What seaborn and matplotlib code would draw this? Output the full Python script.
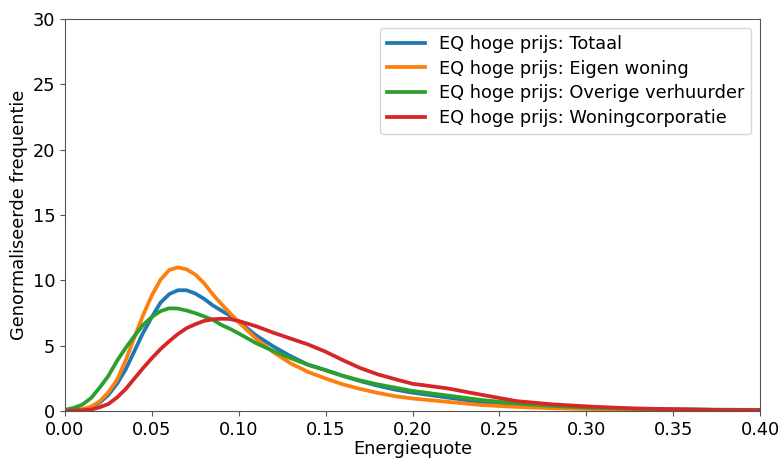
import numpy as np
import pandas as pd
import matplotlib
matplotlib.use("Agg")
import matplotlib.pyplot as plt
import seaborn as sns

x_vals = [0.0, 0.005, 0.01, 0.015, 0.02, 0.025, 0.03, 0.035, 0.04, 0.045,
          0.05, 0.055, 0.06, 0.065, 0.07, 0.075, 0.08, 0.085, 0.09, 0.095,
          0.10, 0.11, 0.12, 0.13, 0.14, 0.15, 0.16, 0.17, 0.18, 0.19,
          0.20, 0.22, 0.24, 0.26, 0.28, 0.30, 0.325, 0.35, 0.375, 0.40]

totaal = [0.05, 0.07, 0.13, 0.3, 0.65, 1.25, 2.1, 3.2, 4.6, 6.0,
          7.2, 8.3, 8.95, 9.25, 9.25, 9.0, 8.6, 8.1, 7.7, 7.3,
          6.85, 5.8, 4.95, 4.2, 3.55, 3.14, 2.7, 2.3, 1.95, 1.65,
          1.42, 1.05, 0.68, 0.46, 0.33, 0.25, 0.18, 0.13, 0.1, 0.08]

eigen = [0.05, 0.08, 0.15, 0.35, 0.75, 1.45, 2.4, 3.9, 5.65, 7.35,
         8.85, 10.05, 10.8, 11.0, 10.85, 10.45, 9.8, 8.95, 8.2, 7.5,
         6.8, 5.55, 4.5, 3.65, 3.0, 2.5, 2.05, 1.7, 1.4, 1.15,
         0.97, 0.72, 0.47, 0.33, 0.23, 0.17, 0.12, 0.08, 0.06, 0.04]

overige = [0.1, 0.25, 0.5, 1.0, 1.8, 2.7, 3.85, 4.85, 5.75, 6.6,
           7.2, 7.65, 7.87, 7.85, 7.7, 7.5, 7.25, 7.0, 6.6, 6.3,
           5.95, 5.2, 4.6, 4.05, 3.55, 3.14, 2.7, 2.35, 2.05, 1.8,
           1.55, 1.2, 0.85, 0.59, 0.41, 0.28, 0.2, 0.15, 0.12, 0.1]

corporatie = [0.02, 0.04, 0.08, 0.12, 0.3, 0.55, 1.05, 1.7, 2.5, 3.3,
              4.05, 4.75, 5.35, 5.9, 6.35, 6.65, 6.9, 7.03, 7.07, 7.05,
              6.9, 6.5, 6.0, 5.55, 5.1, 4.55, 3.9, 3.3, 2.82, 2.45,
              2.1, 1.75, 1.25, 0.77, 0.53, 0.37, 0.22, 0.15, 0.1, 0.07]

labels = ["EQ hoge prijs: Totaal", "EQ hoge prijs: Eigen woning",
          "EQ hoge prijs: Overige verhuurder", "EQ hoge prijs: Woningcorporatie"]
series = [totaal, eigen, overige, corporatie]
colors = ["#1f77b4", "#ff7f0e", "#2ca02c", "#d62728"]

frames = []
for lab, vals in zip(labels, series):
    frames.append(pd.DataFrame({"x": x_vals, "y": vals, "serie": lab}))
df = pd.concat(frames, ignore_index=True)

plt.rcParams["font.family"] = ["DejaVu Sans"]
FS = 12.8
fig = plt.figure(figsize=(7.82, 4.61), dpi=100)
ax = fig.add_axes([0.083, 0.108, 0.889, 0.851])

sns.lineplot(data=df, x="x", y="y", hue="serie", hue_order=labels,
             palette=colors, linewidth=2.7, ax=ax)

ax.set_xlim(0, 0.40)
ax.set_ylim(0, 30)
ax.set_xticks(np.arange(0, 0.401, 0.05))
ax.set_xticklabels([f"{v:.2f}" for v in np.arange(0, 0.401, 0.05)])
ax.set_yticks(np.arange(0, 31, 5))
ax.tick_params(labelsize=FS, color="#555555")
ax.set_xlabel("Energiequote", fontsize=FS, labelpad=1)
ax.set_ylabel("Genormaliseerde frequentie", fontsize=FS, labelpad=3)
for s in ax.spines.values():
    s.set_color("#555555")

leg = ax.legend(loc="upper right", fontsize=FS, frameon=True,
                borderaxespad=0.5, handlelength=2.1, labelspacing=0.38)
leg.set_title(None)
for line in leg.get_lines():
    line.set_linewidth(2.7)

fig.savefig("out.png", dpi=100)
